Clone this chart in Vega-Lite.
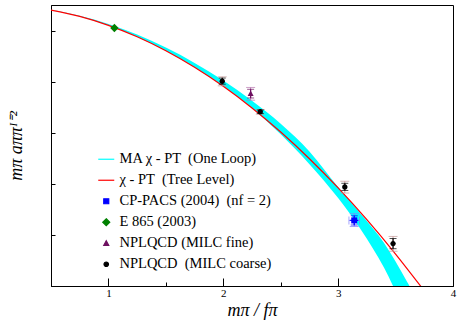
{
  "$schema": "https://vega.github.io/schema/vega-lite/v6.json",
  "width": 402,
  "height": 281,
  "autosize": {"type": "none"},
  "padding": {"left": 51, "top": 5, "right": 4, "bottom": 39},
  "background": "white",
  "config": {
    "view": {"stroke": "#000", "strokeWidth": 1},
    "font": "Liberation Serif",
    "axis": {
      "labelFont": "Liberation Serif", "labelFontSize": 11, "labelColor": "#000",
      "domainColor": "#000", "tickColor": "#000", "grid": false,
      "titleFont": "Liberation Serif", "titleFontStyle": "italic", "titleFontWeight": "normal",
      "titleFontSize": 18, "titleColor": "#000"
    },
    "legend": {"labelFont": "Liberation Serif", "labelFontSize": 14.5, "labelColor": "#000"}
  },
  "datasets": {
    "band": [
      {"series": "MA χ - PT \u00a0(One Loop)", "x": 0.5, "lo": -0.00995, "hi": -0.00925},
      {"series": "MA χ - PT \u00a0(One Loop)", "x": 0.75, "lo": -0.0224, "hi": -0.0208},
      {"series": "MA χ - PT \u00a0(One Loop)", "x": 1.0, "lo": -0.0398, "hi": -0.037},
      {"series": "MA χ - PT \u00a0(One Loop)", "x": 1.25, "lo": -0.0622, "hi": -0.0578},
      {"series": "MA χ - PT \u00a0(One Loop)", "x": 1.5, "lo": -0.0896, "hi": -0.0833},
      {"series": "MA χ - PT \u00a0(One Loop)", "x": 1.75, "lo": -0.1219, "hi": -0.1133},
      {"series": "MA χ - PT \u00a0(One Loop)", "x": 2.0, "lo": -0.1592, "hi": -0.148},
      {"series": "MA χ - PT \u00a0(One Loop)", "x": 2.25, "lo": -0.2015, "hi": -0.1873},
      {"series": "MA χ - PT \u00a0(One Loop)", "x": 2.5, "lo": -0.2531, "hi": -0.2323},
      {"series": "MA χ - PT \u00a0(One Loop)", "x": 2.75, "lo": -0.3116, "hi": -0.2865},
      {"series": "MA χ - PT \u00a0(One Loop)", "x": 3.0, "lo": -0.378, "hi": -0.3564},
      {"series": "MA χ - PT \u00a0(One Loop)", "x": 3.2, "lo": -0.4403, "hi": -0.4096},
      {"series": "MA χ - PT \u00a0(One Loop)", "x": 3.4, "lo": -0.5144, "hi": -0.4659},
      {"series": "MA χ - PT \u00a0(One Loop)", "x": 3.6, "lo": -0.6091, "hi": -0.5417},
      {"series": "MA χ - PT \u00a0(One Loop)", "x": 3.7, "lo": -0.6544, "hi": -0.5818}
    ],
    "tree": [
      {"series": " χ - PT \u00a0(Tree Level)", "x": 0.5, "y": -0.00995},
      {"series": " χ - PT \u00a0(Tree Level)", "x": 0.75, "y": -0.02238},
      {"series": " χ - PT \u00a0(Tree Level)", "x": 1.0, "y": -0.03979},
      {"series": " χ - PT \u00a0(Tree Level)", "x": 1.25, "y": -0.06217},
      {"series": " χ - PT \u00a0(Tree Level)", "x": 1.5, "y": -0.08952},
      {"series": " χ - PT \u00a0(Tree Level)", "x": 1.75, "y": -0.12185},
      {"series": " χ - PT \u00a0(Tree Level)", "x": 2.0, "y": -0.15915},
      {"series": " χ - PT \u00a0(Tree Level)", "x": 2.25, "y": -0.20143},
      {"series": " χ - PT \u00a0(Tree Level)", "x": 2.5, "y": -0.24868},
      {"series": " χ - PT \u00a0(Tree Level)", "x": 2.75, "y": -0.3009},
      {"series": " χ - PT \u00a0(Tree Level)", "x": 3.0, "y": -0.3581},
      {"series": " χ - PT \u00a0(Tree Level)", "x": 3.25, "y": -0.42027},
      {"series": " χ - PT \u00a0(Tree Level)", "x": 3.5, "y": -0.4874},
      {"series": " χ - PT \u00a0(Tree Level)", "x": 3.75, "y": -0.55953}
    ],
    "pts": [
      {"series": "CP-PACS (2004) \u00a0(nf = 2)", "x": 3.14, "y": -0.4216, "yo1": -0.4335, "yo2": -0.4085, "yi1": -0.4306, "yi2": -0.4126, "xo1": 3.094, "xo2": 3.186, "xi1": 3.105, "xi2": 3.175},
      {"series": "E 865 (2003)", "x": 1.052, "y": -0.045},
      {"series": "NPLQCD (MILC fine)", "x": 2.238, "y": -0.173, "yo1": -0.1863, "yo2": -0.1614, "yi1": -0.182, "yi2": -0.165},
      {"series": "NPLQCD \u00a0(MILC coarse)", "x": 1.991, "y": -0.149, "yo1": -0.1582, "yo2": -0.1406, "yi1": -0.155, "yi2": -0.143},
      {"series": "NPLQCD \u00a0(MILC coarse)", "x": 2.322, "y": -0.209, "yo1": -0.2137, "yo2": -0.2045, "yi1": -0.2125, "yi2": -0.2055},
      {"series": "NPLQCD \u00a0(MILC coarse)", "x": 3.058, "y": -0.356, "yo1": -0.368, "yo2": -0.345, "yi1": -0.363, "yi2": -0.349},
      {"series": "NPLQCD \u00a0(MILC coarse)", "x": 3.478, "y": -0.467, "yo1": -0.482, "yo2": -0.453, "yi1": -0.477, "yi2": -0.457}
    ]
  },
  "layer": [
    {
      "data": {"name": "band"},
      "mark": {"type": "area", "interpolate": "monotone", "clip": true},
      "encoding": {
        "x": {"field": "x", "type": "quantitative", "title": "mπ / fπ",
          "scale": {"domain": [0.5, 4], "nice": false, "zero": false},
          "axis": {"orient": "bottom", "values": [1, 1.5, 2, 2.5, 3, 3.5, 4],
            "labelExpr": "datum.value % 1 === 0 ? format(datum.value, '.0f') : ''",
            "tickSize": {"condition": {"test": "datum.value % 1 === 0", "value": -8}, "value": -4},
            "labelPadding": 9, "labelFlush": false, "labelOverlap": false,
            "titleX": 201, "titleY": 29, "titleBaseline": "alphabetic", "titleAlign": "center"}},
        "y": {"field": "lo", "type": "quantitative", "title": "mπ aππᴵ⁼²",
          "scale": {"domain": [-0.55, 0], "nice": false, "zero": false},
          "axis": {"orient": "left", "values": [0, -0.05, -0.1, -0.15, -0.2, -0.25, -0.3, -0.35, -0.4, -0.45, -0.5, -0.55],
            "labelExpr": "datum.value === 0 ? '0' : (indexof([-0.1, -0.2, -0.3, -0.4, -0.5], datum.value) >= 0 ? '-' + format(-datum.value, '.1f') : '')",
            "tickSize": {"condition": {"test": "abs(datum.value*10 - round(datum.value*10)) < 0.001", "value": -8}, "value": -4},
            "labelPadding": 12, "labelFlush": false, "labelOverlap": false, "labelBound": false,
            "labelColor": "#000", "labelOpacity": 1, "labelFont": "Liberation Serif", "labelFontSize": 11,
            "titleX": -30, "titleY": 140.5, "titleAngle": 270, "titleBaseline": "alphabetic", "titleAlign": "center"}},
        "y2": {"field": "hi"},
        "color": {"field": "series", "type": "nominal", "title": null,
          "scale": {"domain": ["MA χ - PT \u00a0(One Loop)", " χ - PT \u00a0(Tree Level)", "CP-PACS (2004) \u00a0(nf = 2)", "E 865 (2003)", "NPLQCD (MILC fine)", "NPLQCD \u00a0(MILC coarse)"],
            "range": ["#00ffff", "#ff0000", "#0000ff", "#008000", "#6e1060", "#000000"]},
          "legend": {"orient": "none", "legendX": 48, "legendY": 147, "title": null, "padding": 0,
            "labelFont": "Liberation Serif", "labelFontSize": 14.5, "labelColor": "#000", "labelLimit": 300,
            "symbolSize": 100, "labelOffset": 6, "rowPadding": 6,
            "encode": {"symbols": {"update": {"fill": {"scale": "color", "field": "value"}, "stroke": {"scale": "color", "field": "value"}, "strokeWidth": {"value": 1.2}, "opacity": {"value": 1}}}}}}
      }
    },
    {
      "data": {"name": "tree"},
      "mark": {"type": "line", "interpolate": "monotone", "clip": true, "strokeWidth": 1.2},
      "encoding": {
        "x": {"field": "x", "type": "quantitative", "title": "mπ / fπ"},
        "y": {"field": "y", "type": "quantitative", "title": "mπ aππᴵ⁼²"},
        "color": {"field": "series", "type": "nominal", "title": null,
          "legend": {"orient": "none", "legendX": 48, "legendY": 147, "title": null, "padding": 0,
            "labelFont": "Liberation Serif", "labelFontSize": 14.5, "labelColor": "#000", "labelLimit": 300,
            "symbolSize": 100, "labelOffset": 6, "rowPadding": 6,
            "encode": {"symbols": {"update": {"fill": {"scale": "color", "field": "value"}, "stroke": {"scale": "color", "field": "value"}, "strokeWidth": {"value": 1.2}, "opacity": {"value": 1}}}}}}
      }
    },
    {
      "data": {"name": "pts"},
      "transform": [{"filter": "isValid(datum.yo1)"}],
      "mark": {"type": "rule", "strokeWidth": 1},
      "encoding": {
        "x": {"field": "x", "type": "quantitative", "title": "mπ / fπ"},
        "y": {"field": "yo1", "type": "quantitative", "title": "mπ aππᴵ⁼²"},
        "y2": {"field": "yo2"},
        "stroke": {"field": "series", "type": "nominal", "legend": null,
          "scale": {"domain": ["CP-PACS (2004) \u00a0(nf = 2)", "NPLQCD (MILC fine)", "NPLQCD \u00a0(MILC coarse)"], "range": ["#8080ff", "#b878b0", "#c49a9a"]}}
      }
    },
    {
      "data": {"name": "pts"},
      "transform": [{"filter": "isValid(datum.xo1)"}],
      "mark": {"type": "rule", "strokeWidth": 1},
      "encoding": {
        "x": {"field": "xo1", "type": "quantitative", "title": "mπ / fπ"},
        "x2": {"field": "xo2"},
        "y": {"field": "y", "type": "quantitative", "title": "mπ aππᴵ⁼²"},
        "stroke": {"field": "series", "type": "nominal", "legend": null}
      }
    },
    {
      "data": {"name": "pts"},
      "transform": [{"filter": "isValid(datum.yo1)"}],
      "mark": {"type": "tick", "orient": "horizontal", "size": 9, "thickness": 1},
      "encoding": {
        "x": {"field": "x", "type": "quantitative", "title": "mπ / fπ"},
        "y": {"field": "yo1", "type": "quantitative", "title": "mπ aππᴵ⁼²"},
        "fill": {"field": "series", "type": "nominal", "legend": null,
          "scale": {"domain": ["CP-PACS (2004) \u00a0(nf = 2)", "NPLQCD (MILC fine)", "NPLQCD \u00a0(MILC coarse)"], "range": ["#8080ff", "#b878b0", "#c49a9a"]}}
      }
    },
    {
      "data": {"name": "pts"},
      "transform": [{"filter": "isValid(datum.yo2)"}],
      "mark": {"type": "tick", "orient": "horizontal", "size": 9, "thickness": 1},
      "encoding": {
        "x": {"field": "x", "type": "quantitative", "title": "mπ / fπ"},
        "y": {"field": "yo2", "type": "quantitative", "title": "mπ aππᴵ⁼²"},
        "fill": {"field": "series", "type": "nominal", "legend": null}
      }
    },
    {
      "data": {"name": "pts"},
      "transform": [{"filter": "isValid(datum.xo1)"}],
      "mark": {"type": "tick", "orient": "vertical", "size": 8, "thickness": 1},
      "encoding": {
        "x": {"field": "xo1", "type": "quantitative", "title": "mπ / fπ"},
        "y": {"field": "y", "type": "quantitative", "title": "mπ aππᴵ⁼²"},
        "fill": {"field": "series", "type": "nominal", "legend": null}
      }
    },
    {
      "data": {"name": "pts"},
      "transform": [{"filter": "isValid(datum.xo2)"}],
      "mark": {"type": "tick", "orient": "vertical", "size": 8, "thickness": 1},
      "encoding": {
        "x": {"field": "xo2", "type": "quantitative", "title": "mπ / fπ"},
        "y": {"field": "y", "type": "quantitative", "title": "mπ aππᴵ⁼²"},
        "fill": {"field": "series", "type": "nominal", "legend": null}
      }
    },
    {
      "data": {"name": "pts"},
      "transform": [{"filter": "isValid(datum.yi1)"}],
      "mark": {"type": "rule", "strokeWidth": 1.2},
      "encoding": {
        "x": {"field": "x", "type": "quantitative", "title": "mπ / fπ"},
        "y": {"field": "yi1", "type": "quantitative", "title": "mπ aππᴵ⁼²"},
        "y2": {"field": "yi2"},
        "color": {"field": "series", "type": "nominal", "legend": null}
      }
    },
    {
      "data": {"name": "pts"},
      "transform": [{"filter": "isValid(datum.xi1)"}],
      "mark": {"type": "rule", "strokeWidth": 1.2},
      "encoding": {
        "x": {"field": "xi1", "type": "quantitative", "title": "mπ / fπ"},
        "x2": {"field": "xi2"},
        "y": {"field": "y", "type": "quantitative", "title": "mπ aππᴵ⁼²"},
        "color": {"field": "series", "type": "nominal", "legend": null}
      }
    },
    {
      "data": {"name": "pts"},
      "transform": [{"filter": "isValid(datum.yi1)"}],
      "mark": {"type": "tick", "orient": "horizontal", "size": 7, "thickness": 1},
      "encoding": {
        "x": {"field": "x", "type": "quantitative", "title": "mπ / fπ"},
        "y": {"field": "yi1", "type": "quantitative", "title": "mπ aππᴵ⁼²"},
        "color": {"field": "series", "type": "nominal", "legend": null}
      }
    },
    {
      "data": {"name": "pts"},
      "transform": [{"filter": "isValid(datum.yi2)"}],
      "mark": {"type": "tick", "orient": "horizontal", "size": 7, "thickness": 1},
      "encoding": {
        "x": {"field": "x", "type": "quantitative", "title": "mπ / fπ"},
        "y": {"field": "yi2", "type": "quantitative", "title": "mπ aππᴵ⁼²"},
        "color": {"field": "series", "type": "nominal", "legend": null}
      }
    },
    {
      "data": {"name": "pts"},
      "mark": {"type": "point", "filled": true, "size": 144, "opacity": 1, "strokeWidth": 0},
      "encoding": {
        "x": {"field": "x", "type": "quantitative", "title": "mπ / fπ"},
        "y": {"field": "y", "type": "quantitative", "title": "mπ aππᴵ⁼²"},
        "color": {"field": "series", "type": "nominal", "title": null,
          "legend": {"orient": "none", "legendX": 48, "legendY": 147, "title": null, "padding": 0,
            "labelFont": "Liberation Serif", "labelFontSize": 14.5, "labelColor": "#000", "labelLimit": 300,
            "symbolSize": 100, "labelOffset": 6, "rowPadding": 6,
            "encode": {"symbols": {"update": {"fill": {"scale": "color", "field": "value"}, "stroke": {"scale": "color", "field": "value"}, "strokeWidth": {"value": 1.2}, "opacity": {"value": 1}}}}}},
        "shape": {"field": "series", "type": "nominal", "title": null,
          "scale": {"domain": ["MA χ - PT \u00a0(One Loop)", " χ - PT \u00a0(Tree Level)", "CP-PACS (2004) \u00a0(nf = 2)", "E 865 (2003)", "NPLQCD (MILC fine)", "NPLQCD \u00a0(MILC coarse)"],
            "range": ["M-1.6,0H1.6", "M-1.6,0H1.6", "M-0.5,-0.5H0.5V0.5H-0.5Z", "M0,-0.7L0.7,0L0,0.7L-0.7,0Z", "M0,-0.5L0.5,0.45L-0.5,0.45Z", "M-0.45,0A0.45,0.45,0,1,0,0.45,0A0.45,0.45,0,1,0,-0.45,0Z"]},
          "legend": {"orient": "none", "legendX": 48, "legendY": 147, "title": null, "padding": 0,
            "labelFont": "Liberation Serif", "labelFontSize": 14.5, "labelColor": "#000", "labelLimit": 300,
            "symbolSize": 100, "labelOffset": 6, "rowPadding": 6,
            "encode": {"symbols": {"update": {"fill": {"scale": "color", "field": "value"}, "stroke": {"scale": "color", "field": "value"}, "strokeWidth": {"value": 1.2}, "opacity": {"value": 1}}}}}}
      }
    }
  ]
}
